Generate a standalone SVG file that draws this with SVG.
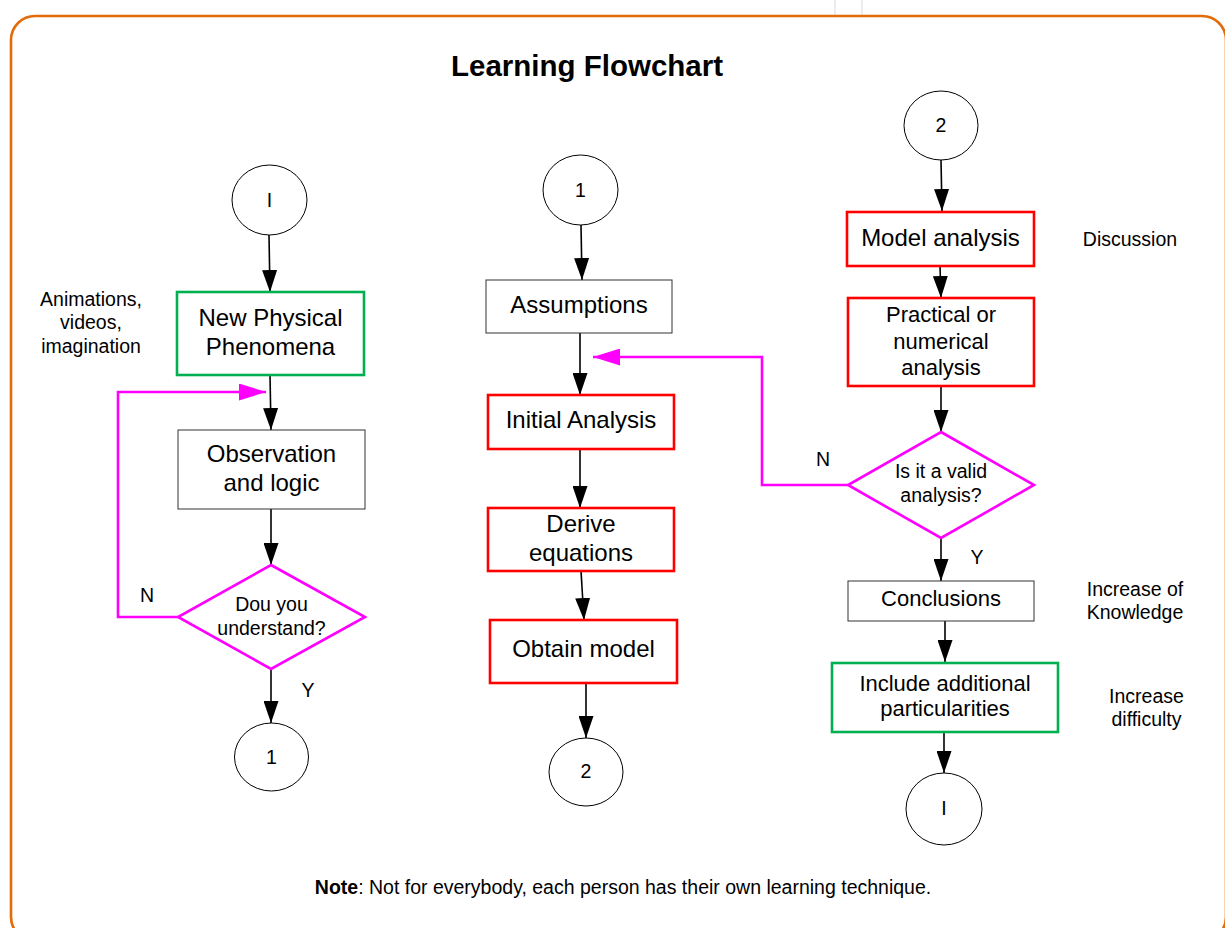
<svg xmlns="http://www.w3.org/2000/svg" width="1225" height="928" viewBox="0 0 1225 928">
<style>
text{font-family:"Liberation Sans",Arial,sans-serif;fill:#000;text-anchor:middle}
.box{fill:#fff;stroke:#333;stroke-width:1}
.red{fill:#fff;stroke:#FF0000;stroke-width:2.6}
.green{fill:#fff;stroke:#00B050;stroke-width:2.6}
.dia{fill:#fff;stroke:#FF00FF;stroke-width:2.6}
.circ{fill:#fff;stroke:#000;stroke-width:1}
.t24{font-size:24px}
.t22{font-size:22px}
.t20{font-size:19.5px}
.side{font-size:19.5px}
.conn{fill:none;stroke:#000;stroke-width:1.6;marker-end:url(#ah)}
.loop{fill:none;stroke:#FF00FF;stroke-width:2.6;marker-end:url(#mh)}
</style>
<defs>
<marker id="ah" markerUnits="userSpaceOnUse" markerWidth="22" markerHeight="15" refX="22" refY="7.5" orient="auto">
<path d="M0,0 L22,7.5 L0,15 z" fill="#000"/>
</marker>
<marker id="mh" markerUnits="userSpaceOnUse" markerWidth="27" markerHeight="17" refX="27" refY="8.5" orient="auto">
<path d="M0,0 L27,8.5 L0,17 z" fill="#FF00FF"/>
</marker>
</defs>
<rect width="1225" height="928" fill="#fff"/>
<line x1="835" y1="0" x2="835" y2="15" stroke="#e6e6e6" stroke-width="1.5"/>
<line x1="862" y1="0" x2="862" y2="15" stroke="#e6e6e6" stroke-width="1.5"/>
<rect x="11" y="16" width="1215" height="925" rx="24" ry="24" fill="none" stroke="#E36C0A" stroke-width="2.6"/>
<text x="587" y="76" style="font-size:29.5px;font-weight:bold">Learning Flowchart</text>

<g id="connectors">
<line class="conn" x1="269" y1="235" x2="270" y2="292"/>
<line class="conn" x1="270" y1="375" x2="271" y2="430"/>
<line class="conn" x1="271" y1="509" x2="271" y2="565"/>
<line class="conn" x1="271" y1="669" x2="271" y2="723"/>
<polyline class="loop" points="178,617 118,617 118,392 266,392"/>
<line class="conn" x1="581" y1="225" x2="582" y2="280"/>
<line class="conn" x1="580" y1="333" x2="580" y2="395"/>
<line class="conn" x1="580" y1="449" x2="580" y2="508"/>
<line class="conn" x1="581" y1="571" x2="584" y2="620"/>
<line class="conn" x1="586" y1="683" x2="586" y2="738"/>
<line class="conn" x1="941" y1="160" x2="942" y2="211"/>
<line class="conn" x1="940" y1="266" x2="941" y2="298"/>
<line class="conn" x1="941" y1="386" x2="941" y2="432"/>
<line class="conn" x1="941" y1="538" x2="941" y2="581"/>
<line class="conn" x1="945" y1="621" x2="945" y2="662"/>
<line class="conn" x1="944" y1="732" x2="944" y2="773"/>
<polyline class="loop" points="848,485 762,485 762,357 593,357"/>
<text class="side" x="147" y="602">N</text>
<text class="side" x="308" y="697">Y</text>
<text class="side" x="823" y="466">N</text>
<text class="side" x="977" y="564">Y</text>
</g>

<g id="start-left">
<ellipse class="circ" cx="269.5" cy="200" rx="37.5" ry="35"/>
<text class="t20" x="269.5" y="206.5">I</text>
</g>
<g id="new-physical">
<rect class="green" x="177" y="292" width="187" height="83"/>
<text class="t24" x="270.5" y="326">New Physical</text>
<text class="t24" x="270.5" y="355">Phenomena</text>
</g>
<g id="label-animations">
<text class="side" x="91" y="306">Animations,</text>
<text class="side" x="91" y="329">videos,</text>
<text class="side" x="91" y="352.5">imagination</text>
</g>
<g id="observation">
<rect class="box" x="178" y="430" width="187" height="79"/>
<text class="t24" x="271.5" y="462">Observation</text>
<text class="t24" x="271.5" y="491">and logic</text>
</g>
<g id="understand">
<polygon class="dia" points="271,565 365,617 271,669 178,617"/>
<text class="t20" x="271.5" y="611">Dou you</text>
<text class="t20" x="271.5" y="635">understand?</text>
</g>
<g id="end-left">
<ellipse class="circ" cx="271.5" cy="757" rx="37" ry="34"/>
<text class="t20" x="271.5" y="764">1</text>
</g>

<g id="start-mid">
<ellipse class="circ" cx="580.5" cy="190" rx="37.5" ry="35"/>
<text class="t20" x="580.5" y="197">1</text>
</g>
<g id="assumptions">
<rect class="box" x="486" y="280" width="186" height="53"/>
<text class="t24" x="579" y="313">Assumptions</text>
</g>
<g id="initial-analysis">
<rect class="red" x="488" y="395" width="186" height="54"/>
<text class="t24" x="581" y="428">Initial Analysis</text>
</g>
<g id="derive">
<rect class="red" x="488" y="508" width="186" height="63"/>
<text class="t24" x="581" y="532">Derive</text>
<text class="t24" x="581" y="561">equations</text>
</g>
<g id="obtain-model">
<rect class="red" x="490" y="620" width="187" height="63"/>
<text class="t24" x="583.5" y="657">Obtain model</text>
</g>
<g id="end-mid">
<ellipse class="circ" cx="586" cy="772" rx="37" ry="34"/>
<text class="t20" x="586" y="778">2</text>
</g>

<g id="start-right">
<ellipse class="circ" cx="941" cy="125.5" rx="37" ry="34.5"/>
<text class="t20" x="941" y="132">2</text>
</g>
<g id="model-analysis">
<rect class="red" x="847" y="212" width="187" height="54"/>
<text class="t24" x="940.5" y="246">Model analysis</text>
</g>
<text id="label-discussion" class="side" x="1130" y="246">Discussion</text>
<g id="practical">
<rect class="red" x="848" y="298" width="186" height="88"/>
<text class="t22" x="941" y="322">Practical or</text>
<text class="t22" x="941" y="348.5">numerical</text>
<text class="t22" x="941" y="374.5">analysis</text>
</g>
<g id="valid">
<polygon class="dia" points="941,432 1034,485 941,538 848,485"/>
<text class="t20" x="941" y="478">Is it a valid</text>
<text class="t20" x="941" y="502">analysis?</text>
</g>
<g id="conclusions">
<rect class="box" x="848" y="581" width="186" height="40"/>
<text class="t22" x="941" y="606">Conclusions</text>
</g>
<g id="label-knowledge">
<text class="side" x="1135" y="596">Increase of</text>
<text class="side" x="1135" y="619">Knowledge</text>
</g>
<g id="include">
<rect class="green" x="832" y="663" width="226" height="69"/>
<text class="t22" x="945" y="690.5">Include additional</text>
<text class="t22" x="945" y="715.5">particularities</text>
</g>
<g id="label-difficulty">
<text class="side" x="1146.5" y="702.5">Increase</text>
<text class="side" x="1146.5" y="725.5">difficulty</text>
</g>
<g id="end-right">
<ellipse class="circ" cx="944" cy="809" rx="38" ry="36"/>
<text class="t20" x="944" y="815">I</text>
</g>

<text id="note" x="623" y="894" style="font-size:19.5px"><tspan style="font-weight:bold">Note</tspan>: Not for everybody, each person has their own learning technique.</text>
</svg>
